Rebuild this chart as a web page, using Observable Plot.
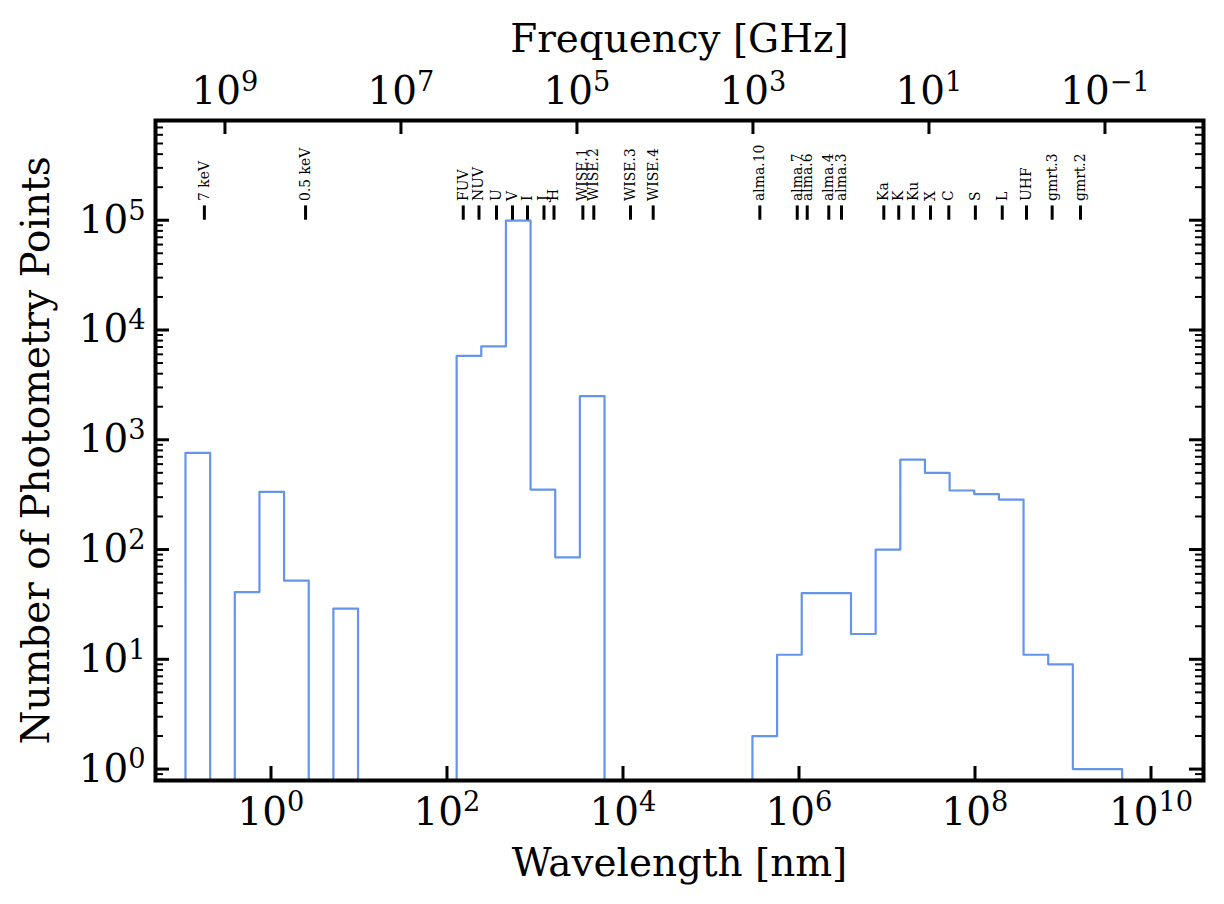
<!DOCTYPE html>
<html>
<head>
<meta charset="utf-8">
<script src="https://cdn.jsdelivr.net/npm/d3@7"></script>
<script src="https://cdn.jsdelivr.net/npm/@observablehq/plot@0.6"></script>
<style>
html, body { margin: 0; padding: 0; background: #ffffff; }
</style>
</head>
<body>
<div id="chart"></div>
<script>
// Histogram bin edges (wavelength, nm) — log-spaced
const binEdges = [
  0.1067, 0.2035, 0.3878, 0.7390, 1.408, 2.685, 5.117, 9.752, 18.59, 35.43,
  67.52, 128.7, 245.2, 467.4, 890.7, 1698, 3236, 6167, 11755, 22402,
  42696, 81377, 155097, 295600, 563400, 1.0737e6, 2.0464e6, 3.9003e6, 7.4336e6, 1.4168e7,
  2.7003e7, 5.1465e7, 9.809e7, 1.8695e8, 3.5631e8, 6.791e8, 1.2942e9, 2.4667e9, 4.7013e9
];
// Number of photometry points per bin
const counts = [
  760, 0, 41, 335, 52, 0, 29, 0, 0, 0,
  0, 5800, 7100, 99000, 352, 85, 2500, 0, 0, 0,
  0, 0, 0, 2, 11, 40, 40, 17, 100, 660,
  500, 345, 320, 285, 11, 9, 1, 1
];
// Band markers
const bandNames = ["7 keV","0.5 keV","FUV","NUV","U","V","I","J","H","WISE.1","WISE.2","WISE.3","WISE.4",
  "alma.10","alma.7","alma.6","alma.4","alma.3","Ka","K","Ku","X","C","S","L","UHF","gmrt.3","gmrt.2"];
const bandWavelengths = [0.175, 2.47, 153, 231, 365, 555, 822, 1265, 1644, 3500, 4660, 12170, 22030,
  3.59e5, 9.55e5, 1.24e6, 2.18e6, 3.04e6, 9.2e6, 1.36e7, 1.99e7, 3.12e7, 5.04e7, 1.01e8, 2.04e8, 3.85e8, 7.53e8, 1.58e9];

// Axis ticks
const xTickValues = [1, 1e2, 1e4, 1e6, 1e8, 1e10];
const xTickLabels = ["10^0", "10^2", "10^4", "10^6", "10^8", "10^10"];
const freqTickValues = [1e9, 1e7, 1e5, 1e3, 1e1, 1e-1]; // GHz
const freqTickLabels = ["10^9", "10^7", "10^5", "10^3", "10^1", "10^\u22121"];
const yTickValues = [1, 10, 100, 1e3, 1e4, 1e5];
const yTickLabels = ["10^0", "10^1", "10^2", "10^3", "10^4", "10^5"];

const xDomain = [0.0487, 3.95e10];
const yDomain = [0.787, 8.1e5];

const W = 1224, H = 904, mL = 155, mR = 21, mT = 120, mB = 124;
const plotW = W - mL - mR, plotH = H - mT - mB;
const FONT = "DejaVu Serif";
const FS = 38.9;
const C_LIGHT = 299792458; // nm * GHz

const floorVal = 0.1;
const steps = [{x: binEdges[0], y: floorVal}]
  .concat(counts.map((c, i) => ({x: binEdges[i], y: c > 0 ? c : floorVal})))
  .concat([{x: binEdges[counts.length], y: floorVal}]);

const bands = bandNames.map((n, i) => ({name: n, w: bandWavelengths[i]}));
const freqTickLambda = freqTickValues.map(f => C_LIGHT / f);
const yMinor = d3.scaleLog().domain(yDomain).ticks()
  .filter(v => Math.abs(Math.log10(v) - Math.round(Math.log10(v))) > 1e-6);

const svg = Plot.plot({
  width: W, height: H,
  marginLeft: mL, marginRight: mR, marginTop: mT, marginBottom: mB,
  x: {type: "log", domain: xDomain, axis: null},
  y: {type: "log", domain: yDomain, axis: null},
  marks: [
    Plot.line(steps, {x: "x", y: "y", curve: "step-after", stroke: "#6495ED", strokeWidth: 2.2, clip: true}),
    Plot.ruleX(bands, {x: "w", y1: 1e5, y2: 1.35e5, stroke: "black", strokeWidth: 3}),
    Plot.text(bands, {x: "w", y: 1.35e5, text: "name", rotate: -90, textAnchor: "start", lineAnchor: "middle",
      dy: -5, fontSize: 13.9, fontFamily: FONT, fill: "black"}),
    // ticks
    Plot.ruleX(xTickValues, {x: d => d, insetTop: plotH - 14, stroke: "black", strokeWidth: 3}),
    Plot.ruleX(freqTickLambda, {x: d => d, insetBottom: plotH - 14, stroke: "black", strokeWidth: 3}),
    Plot.ruleY(yTickValues, {y: d => d, insetRight: plotW - 14, stroke: "black", strokeWidth: 3}),
    Plot.ruleY(yTickValues, {y: d => d, insetLeft: plotW - 14, stroke: "black", strokeWidth: 3}),
    Plot.ruleY(yMinor, {y: d => d, insetRight: plotW - 8, stroke: "black", strokeWidth: 2}),
    Plot.ruleY(yMinor, {y: d => d, insetLeft: plotW - 8, stroke: "black", strokeWidth: 2}),
    // tick labels
    Plot.text(xTickValues, {x: d => d, text: (d, i) => xTickLabels[i], frameAnchor: "bottom", lineAnchor: "bottom",
      textAnchor: "middle", dy: 44, fontSize: FS, fontFamily: FONT, fill: "black"}),
    Plot.text(freqTickLambda, {x: d => d, text: (d, i) => freqTickLabels[i], frameAnchor: "top", lineAnchor: "bottom",
      textAnchor: "middle", dy: -16.6, fontSize: FS, fontFamily: FONT, fill: "black"}),
    Plot.text(yTickValues, {y: d => d, text: (d, i) => yTickLabels[i], frameAnchor: "left", textAnchor: "end",
      lineAnchor: "middle", dx: -10, fontSize: FS, fontFamily: FONT, fill: "black"}),
    // axis labels
    Plot.text(["Wavelength [nm]"], {text: d => d, frameAnchor: "bottom", lineAnchor: "bottom", textAnchor: "middle",
      dy: 95.7, fontSize: FS, fontFamily: FONT, fill: "black"}),
    Plot.text(["Frequency [GHz]"], {text: d => d, frameAnchor: "top", lineAnchor: "bottom", textAnchor: "middle",
      dy: -69, fontSize: FS, fontFamily: FONT, fill: "black"}),
    Plot.text(["Number of Photometry Points"], {text: d => d, frameAnchor: "left", rotate: -90, lineAnchor: "bottom",
      textAnchor: "middle", dx: -107, fontSize: FS, fontFamily: FONT, fill: "black"}),
    Plot.frame({stroke: "black", strokeWidth: 4})
  ]
});

// Render "10^n" labels with a raised, smaller exponent
const SVGNS = "http://www.w3.org/2000/svg";
d3.select(svg).selectAll("text").each(function() {
  const t = this.textContent;
  const m = /^10\^(.+)$/.exec(t);
  if (m) {
    this.textContent = "10";
    const ts = document.createElementNS(SVGNS, "tspan");
    ts.setAttribute("font-size", "70%");
    ts.setAttribute("dy", "-0.48em");
    ts.textContent = m[1];
    this.appendChild(ts);
  }
});

document.getElementById("chart").appendChild(svg);
</script>
</body>
</html>
